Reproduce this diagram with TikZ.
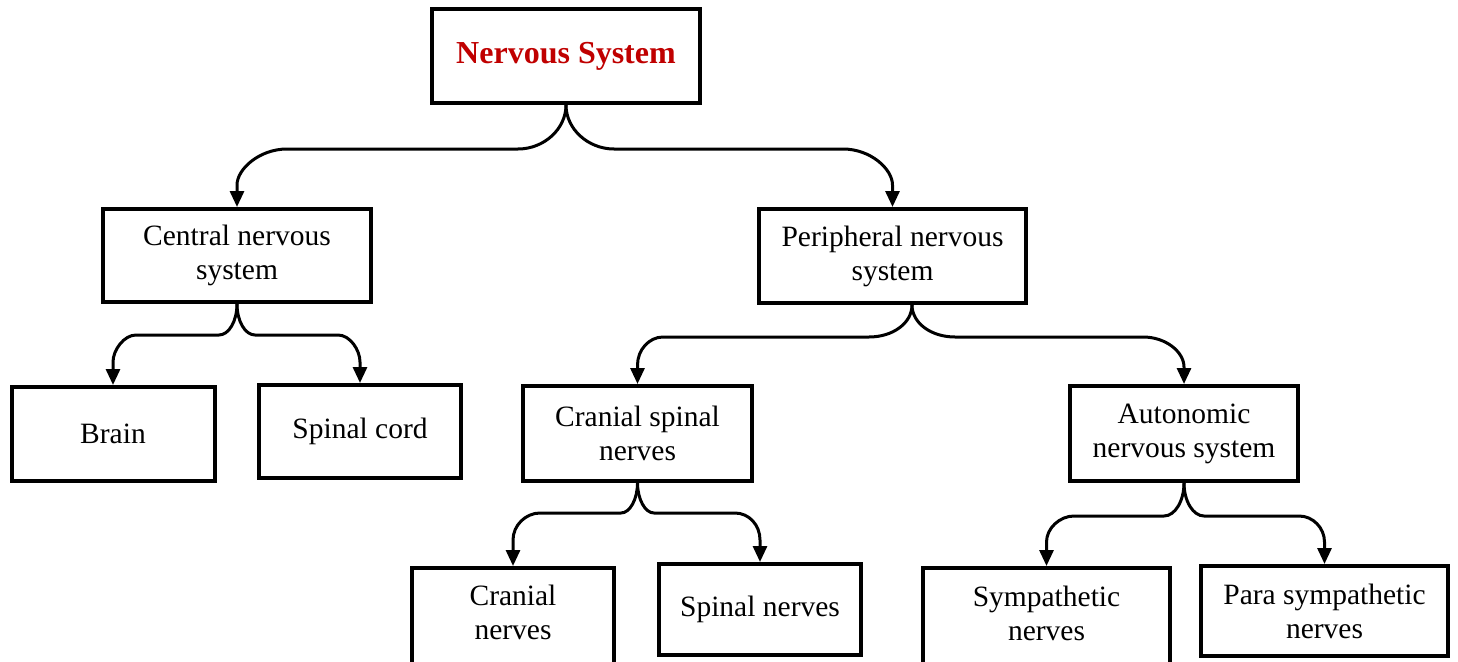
\documentclass[tikz,border=0pt]{standalone}
\usepackage{fontspec}
\setmainfont{Liberation Serif}
\usetikzlibrary{arrows.meta,calc}
\definecolor{titlered}{HTML}{C00000}
\tikzset{
  box/.style={draw=black, line width=4pt, fill=white, rectangle, inner sep=0pt, align=center,
    font=\fontsize{29.5}{34}\selectfont},
  lbl/.style={inner sep=0pt, align=center, font=\fontsize{29.5}{34}\selectfont},
  conn/.style={line width=3pt, -{Triangle[length=16pt,width=14pt]}},
}
\begin{document}
\begin{tikzpicture}[x=1pt,y=-1pt]
\useasboundingbox (0,0) rectangle (1458,661);
% boxes
\node[box, minimum width=268, minimum height=94, font=\fontsize{32}{38}\selectfont\bfseries, text=titlered] (ns) at (566,56) {Nervous System};
\node[box, minimum width=268, minimum height=93] (cns) at (237,255.5) {Central nervous\\system};
\node[box, minimum width=267, minimum height=94] (pns) at (892.5,256) {Peripheral nervous\\system};
\node[box, minimum width=203, minimum height=94] (brain) at (113,434) {Brain};
\node[box, minimum width=202, minimum height=93] (cord) at (360,431.5) {Spinal cord};
\node[box, minimum width=229, minimum height=95] (csn) at (637.5,433.5) {Cranial spinal\\nerves};
\node[box, minimum width=228, minimum height=95] (ans) at (1184,433.5) {Autonomic\\nervous system};
\node[box, minimum width=202, minimum height=100] (cn) at (513,618) {};
\node[lbl] (cnt) at (513,612) {Cranial\\nerves};
\node[box, minimum width=202, minimum height=91] (sn) at (760,609.5) {Spinal nerves};
\node[box, minimum width=247, minimum height=100] (sym) at (1046.5,618) {};
\node[lbl] (symt) at (1046.5,613) {Sympathetic\\nerves};
\node[box, minimum width=247, minimum height=90] (psn) at (1324.5,611) {Para sympathetic\\nerves};
% connectors
\draw[conn] (ns.south) .. controls (566,129) and (544,149) .. (518,149) -- (287,149)
  .. controls (259.5,149) and (237,169) .. (237,185) -- (cns.north);
\draw[conn] (ns.south) .. controls (566,129) and (588,149) .. (614,149) -- (843,149)
  .. controls (870.5,149) and (892.5,169) .. (892.5,185) -- (pns.north);
\draw[conn] (cns.south) .. controls (237,321) and (229,335) .. (219,335) -- (136,335)
  .. controls (124,335) and (113,350) .. (113,362) -- (brain.north);
\draw[conn] (cns.south) .. controls (237,321) and (245,335) .. (255,335) -- (338,335)
  .. controls (350,335) and (360,350) .. (360,362) -- (cord.north);
\draw[conn] ($(pns.south)+(19.5,0)$) .. controls (912,323) and (893,337) .. (869,337) -- (663,337)
  .. controls (649,337) and (637.5,350) .. (637.5,365) -- (csn.north);
\draw[conn] ($(pns.south)+(19.5,0)$) .. controls (912,323) and (931,337) .. (955,337) -- (1143,337)
  .. controls (1166,337) and (1184,352) .. (1184,367) -- (ans.north);
\draw[conn] (csn.south) .. controls (637.5,499) and (630,513) .. (621,513) -- (540,513)
  .. controls (526,513) and (513,525) .. (513,540) -- (cn.north);
\draw[conn] (csn.south) .. controls (637.5,499) and (645,513) .. (654,513) -- (735,513)
  .. controls (749,513) and (760,525) .. (760,540) -- (sn.north);
\draw[conn] (ans.south) .. controls (1184,501) and (1175,516) .. (1164,516) -- (1074,516)
  .. controls (1060,516) and (1046.5,528) .. (1046.5,542) -- (sym.north);
\draw[conn] (ans.south) .. controls (1184,501) and (1193,516) .. (1204,516) -- (1299,516)
  .. controls (1313,516) and (1324.5,528) .. (1324.5,542) -- (psn.north);
\end{tikzpicture}
\end{document}
